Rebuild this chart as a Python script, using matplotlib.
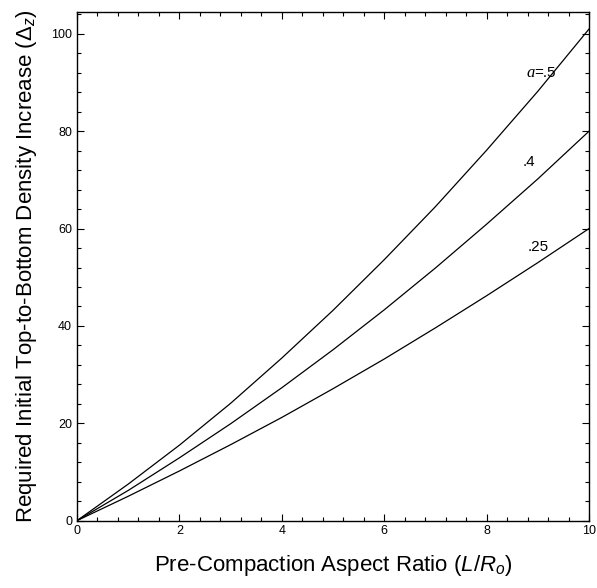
import numpy as np
import matplotlib
matplotlib.use('Agg')
from matplotlib import pyplot as plt
from matplotlib.ticker import MultipleLocator

# values
aspect = [0, 1, 2, 3, 4, 5, 6, 7, 8, 9, 10]
delta_a50 = [0, 7.5, 15.5, 24.1, 33.4, 43.2, 53.6, 64.5, 76.1, 88.2, 101.0]
delta_a40 = [0, 6.2, 12.9, 19.9, 27.3, 35.1, 43.3, 51.9, 60.9, 70.2, 80.0]
delta_a25 = [0, 5.0, 10.2, 15.6, 21.2, 27.1, 33.2, 39.6, 46.2, 53.0, 60.0]

plt.rcParams['font.family'] = ['Liberation Sans', 'DejaVu Sans']
plt.rcParams['mathtext.fontset'] = 'custom'
plt.rcParams['mathtext.rm'] = 'Liberation Sans'
plt.rcParams['mathtext.it'] = 'Liberation Sans:italic'

fig = plt.figure(figsize=(5.97, 5.88), dpi=100)
ax = fig.add_axes([0.129, 0.1146, 0.8576, 0.865])

for ys in (delta_a50, delta_a40, delta_a25):
    ax.plot(aspect, ys, color='black', lw=0.9)

ax.set_xlim(0, 10)
ax.set_ylim(0, 104.5)
ax.xaxis.set_major_locator(MultipleLocator(2))
ax.xaxis.set_minor_locator(MultipleLocator(0.4))
ax.yaxis.set_major_locator(MultipleLocator(20))
ax.yaxis.set_minor_locator(MultipleLocator(4))
ax.tick_params(which='both', direction='in', top=True, right=True, labelsize=9, width=0.8)
ax.tick_params(which='major', length=5)
ax.tick_params(which='minor', length=3)
for s in ax.spines.values():
    s.set_linewidth(1.0)

# curve labels
ax.text(8.77, 92, 'a', fontsize=12, va='center', ha='left',
        family='Liberation Serif', style='italic')
ax.text(8.93, 92, '=.5', fontsize=11, va='center', ha='left')
ax.text(8.7, 73.7, '.4', fontsize=11, va='center', ha='left')
ax.text(8.8, 56.2, '.25', fontsize=11, va='center', ha='left')

ax.set_xlabel(r'Pre-Compaction Aspect Ratio ($\mathit{L/R_o}$)', fontsize=16, labelpad=11)
ax.set_ylabel(r'Required Initial Top-to-Bottom Density Increase ($\mathit{\Delta_z}$)', fontsize=16, labelpad=9)

plt.savefig('out.png', dpi=100)
